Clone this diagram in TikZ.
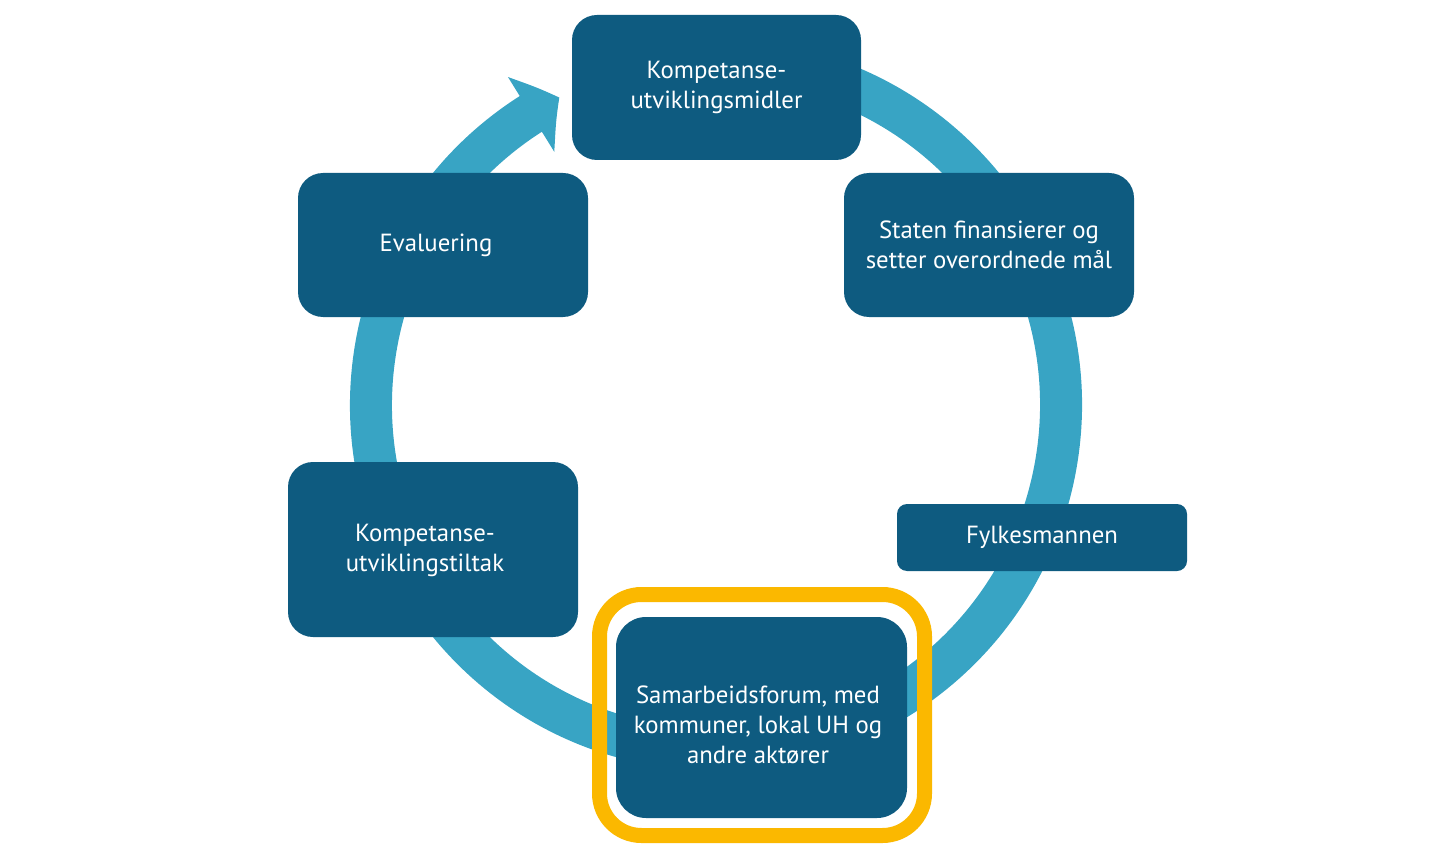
\documentclass[tikz,border=0pt]{standalone}
\usepackage{fontspec}
\setmainfont{PT Sans}
\usetikzlibrary{arrows.meta,bending}
\definecolor{boxblue}{HTML}{0E5B80}
\definecolor{ringblue}{HTML}{38A4C4}
\definecolor{amber}{HTML}{FBB800}
\tikzset{
  boxtext/.style={text=white, align=center, inner sep=0pt,
    font=\fontsize{12.4pt}{15pt}\selectfont},
  stepbox/.style={fill=boxblue, rounded corners=12.5pt, boxtext},
  ring/.style={draw=ringblue, line width=21pt},
  highlight/.style={draw=amber, line width=7.5pt, rounded corners=21pt, inner sep=0pt}
}
\begin{document}
\begin{tikzpicture}[x=0.5pt,y=0.5pt]
\useasboundingbox (0,0) rectangle (1445,-845);
\coordinate (c) at (716,-405);
% ring with arrow
\draw[ring, -{Triangle[length=16.5pt,width=43pt,bend]}] ([shift={(80:345)}]c) arc[start angle=80, end angle=-243, radius=345];
% boxes
\node[stepbox, minimum width=144.5pt, minimum height=72.5pt] (k) at (716.5,-87.5) {Kompetanse-\\utviklingsmidler};
\node[stepbox, minimum width=145pt, minimum height=72pt] (s) at (989,-245) {Staten finansierer og\\setter overordnede mål};
\node[stepbox, minimum width=145pt, minimum height=72pt] (e) at (443,-245) {};
\node[boxtext] (et) at (436,-245) {Evaluering};
\node[stepbox, minimum width=145pt, minimum height=87.5pt] (t) at (433,-549.5) {};
\node[boxtext] (tt) at (425,-550) {Kompetanse-\\utviklingstiltak};
\node[stepbox, rounded corners=5pt, minimum width=145pt, minimum height=33.5pt] (f) at (1042,-537.5) {Fylkesmannen};
\node[stepbox, rounded corners=15pt, minimum width=145.5pt, minimum height=100.5pt] (sf) at (761.5,-717.5) {};
\node[boxtext] (sft) at (758,-725) {Samarbeidsforum, med\\kommuner, lokal UH og\\andre aktører};
\node[highlight, minimum width=162.5pt, minimum height=120.5pt] (hl) at (762,-715) {};
\end{tikzpicture}
\end{document}
